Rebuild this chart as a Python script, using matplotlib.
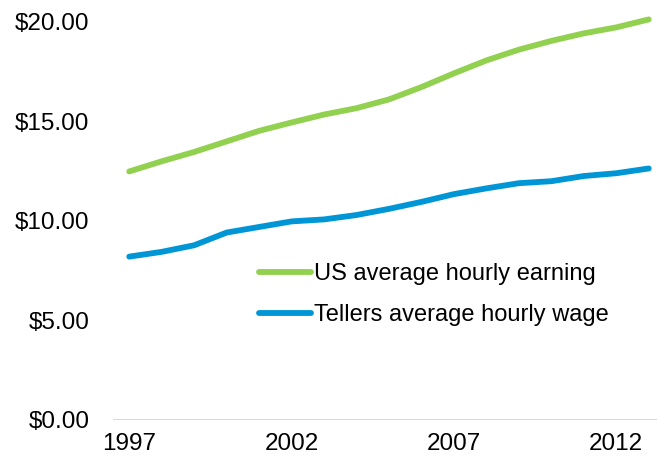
import matplotlib
matplotlib.use('Agg')
import matplotlib.pyplot as plt
from matplotlib.ticker import FuncFormatter

years = list(range(1997, 2014))
us_earning = [12.49, 13.00, 13.47, 14.00, 14.53, 14.95, 15.35, 15.67, 16.11,
              16.73, 17.42, 18.07, 18.61, 19.05, 19.43, 19.73, 20.13]
teller_wage = [8.21, 8.45, 8.78, 9.42, 9.70, 9.98, 10.08, 10.30, 10.61,
               10.96, 11.35, 11.64, 11.90, 12.00, 12.26, 12.40, 12.64]
tick_years = [1997, 2002, 2007, 2012]
y_ticks = [0, 5, 10, 15, 20]

plt.rcParams['font.family'] = ['Liberation Sans', 'DejaVu Sans']

fig = plt.figure(figsize=(6.57, 4.57), dpi=100)
ax = fig.add_axes([113 / 657, 37 / 457, 552 / 657, 398 / 457])

ax.plot(years, us_earning, color='#92D050', lw=4.2, solid_capstyle='round',
        clip_on=False, label='US average hourly earning')
ax.plot(years, teller_wage, color='#0096D6', lw=4.2, solid_capstyle='round',
        clip_on=False, label='Tellers average hourly wage')

ax.set_xlim(1996.5, 2013.5)
ax.set_ylim(0, 20)
ax.axhline(0, color='#D9D9D9', lw=1.5, zorder=0)

ax.set_xticks(tick_years)
ax.set_yticks(y_ticks)
ax.yaxis.set_major_formatter(FuncFormatter(lambda v, p: f'${v:.2f}'))
ax.tick_params(length=0, labelsize=17.5, colors='black')
ax.tick_params(axis='x', pad=9)
ax.tick_params(axis='y', pad=17)
for s in ax.spines.values():
    s.set_visible(False)

ax.legend(loc='upper left', bbox_to_anchor=(259 / 657, 1 - 263 / 457),
          bbox_transform=fig.transFigure, frameon=False, fontsize=17,
          handlelength=2.2, handletextpad=0.15, labelspacing=0.8,
          borderaxespad=0, borderpad=0)

fig.savefig('out.png', dpi=100)
